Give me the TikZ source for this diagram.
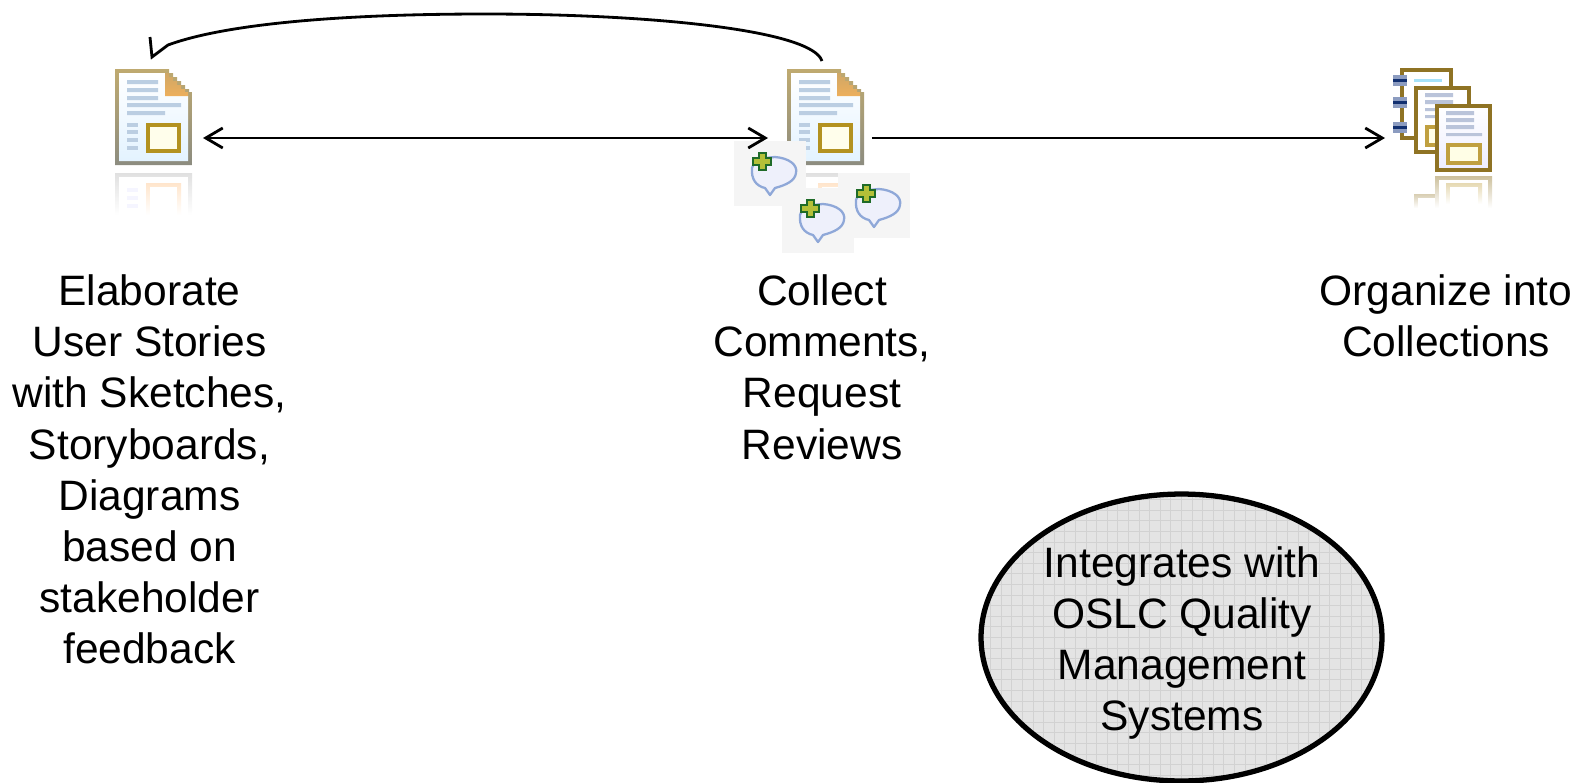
\documentclass[tikz,border=0pt]{standalone}
\usepackage{fontspec}
\setmainfont{Liberation Sans}
\usetikzlibrary{shapes.geometric,arrows.meta}

\definecolor{frametop}{HTML}{BFAA70}
\definecolor{framebot}{HTML}{8C8C80}
\definecolor{pagebot}{HTML}{E3F3FF}
\definecolor{textbar}{HTML}{BBCEE2}
\definecolor{goldbox}{HTML}{B39220}
\definecolor{foldorange}{HTML}{EDAF5C}
\definecolor{foldtan}{HTML}{CFA766}
\definecolor{stackframe}{HTML}{8F7324}
\definecolor{stackbar}{HTML}{BAC4DA}
\definecolor{stackgold}{HTML}{C0A040}
\definecolor{bubbleline}{HTML}{8FA8D8}
\definecolor{bubblefill}{HTML}{EEF0FB}
\definecolor{plusdark}{HTML}{1F6B28}
\definecolor{plusfill}{HTML}{B4C038}
\definecolor{ringdark}{HTML}{123070}
\definecolor{ringlight}{HTML}{8C9CC0}
\definecolor{ovalgrey}{HTML}{E4E4E4}
\definecolor{ovalgrid}{HTML}{D2D2D2}

\tikzset{
  labeltext/.style={align=center,inner sep=0,font=\fontsize{24.2}{29.1}\selectfont},
  iconbox/.style={inner sep=0,outer sep=0,minimum width=#1},
  linkline/.style={line width=1.6pt,>={Straight Barb[length=3.4mm,width=4mm]}},
  docicon/.pic={
    % page and corner
    \path[shade,top color=frametop,bottom color=framebot] (0,0) -- (54,0) -- (54,4) -- (58,4) -- (58,8) -- (62,8) -- (62,12)
      -- (66,12) -- (66,16) -- (70,16) -- (70,20) -- (74,20) -- (74,23) -- (77,23) -- (77,96) -- (0,96) -- cycle;
    \path[shade,top color=white,bottom color=pagebot] (4,4) -- (50,4) -- (50,27) -- (73,27) -- (73,92) -- (4,92) -- cycle;
    \path[shade,top color=foldtan,bottom color=foldorange] (50,4) -- (54,4) -- (54,8) -- (58,8) -- (58,12) -- (62,12) -- (62,16)
      -- (66,16) -- (66,20) -- (70,20) -- (70,23) -- (73,23) -- (73,27) -- (50,27) -- cycle;
    \fill[textbar] (12,11) rectangle (43,15) (12,19) rectangle (43,23) (12,27) rectangle (43,31);
    \fill[textbar] (12,34) rectangle (66,38) (12,42) rectangle (50,46);
    \foreach \yy in {54,61,69,77} \fill[textbar] (12,\yy) rectangle (23,\yy+4);
    \fill[white!92!yellow] (31,54) rectangle (66,84);
    \draw[goldbox,line width=2.2pt] (33,56) rectangle (64,82);
    % reflection
    \path[shade,top color=black!12,bottom color=white] (0,104) rectangle (77,146);
    \fill[white] (4,108) rectangle (73,146);
    \foreach \yy in {119,127,135} \fill[blue!4] (12,\yy) rectangle (23,\yy+4);
    \path[shade,top color=orange!20,bottom color=white] (31,114) rectangle (66,146);
    \fill[white] (35,118) rectangle (62,146);
  },
  bubbleicon/.pic={
    \fill[black!4] (0,0) rectangle (72,65);
    \draw[bubbleline,fill=bubblefill,line width=1.3pt,line join=round] (36,54) -- (31,47)
      .. controls (22,45) and (17,38) .. (18,27) .. controls (19,20) and (26,17) .. (41,16)
      .. controls (55,17) and (64,24) .. (62,32) .. controls (61,40) and (52,44) .. (41,47) -- cycle;
    \draw[plusdark,fill=plusfill,line width=1.3pt] (25,12) -- (32,12) -- (32,17) -- (37,17) -- (37,24) -- (32,24)
      -- (32,29) -- (25,29) -- (25,24) -- (19,24) -- (19,17) -- (25,17) -- cycle;
  },
  stackicon/.pic={
    % rings and pages
    \draw[stackframe,fill=white,line width=2.2pt] (9,2) rectangle (58,70);
    \fill[cyan!35] (21,11) rectangle (49,14);
    \foreach \yy in {7,29,54} {
      \fill[ringlight] (0,\yy) rectangle (14,\yy+11);
      \fill[ringdark] (0,\yy+4) rectangle (14,\yy+7);
    }
    \draw[stackframe,fill=white,line width=2.2pt] (23,20) rectangle (76,84);
    \fill[stackbar] (32,25) rectangle (60,29) (32,32) rectangle (60,36) (32,40) rectangle (45,43) (32,47) rectangle (45,50);
    \draw[stackgold,fill=white!90!yellow,line width=2.2pt] (34,59) rectangle (50,77);
    \path[shade,top color=white,bottom color=blue!7,draw=stackframe,line width=2.2pt] (44,38) rectangle (97,102);
    \fill[stackbar] (53,43) rectangle (81,47) (53,50) rectangle (81,54) (53,57) rectangle (81,61) (53,65) rectangle (89,68);
    \draw[stackgold,fill=white!90!yellow,line width=2.2pt] (55,77) rectangle (87,95);
    % reflection
    \path[shade,top color=stackframe!35,bottom color=white] (21,126) rectangle (42,140);
    \fill[white] (25,130) rectangle (42,140);
    \path[shade,top color=stackframe!45,bottom color=white] (42,108) rectangle (99,140);
    \fill[white] (46,112) rectangle (95,140);
    \path[shade,top color=stackgold!40,bottom color=white] (53,115) rectangle (89,136);
    \fill[white] (57,119) rectangle (85,136);
  },
}

\begin{document}
\begin{tikzpicture}[x=0.02cm,y=-0.02cm]

\useasboundingbox (0,0) rectangle (1580,782);

%icons
\node [iconbox=1.54cm,minimum height=1.92cm] (storydoc) at (153.5,117) {};
\node [iconbox=1.54cm,minimum height=1.92cm] (reviewdoc) at (825.5,117) {};
\node [iconbox=1.98cm,minimum height=2.08cm] (stackdoc) at (1442.5,120) {};
\pic at (storydoc.north west) {docicon};
\pic at (reviewdoc.north west) {docicon};
\pic at (stackdoc.north west) {stackicon};
\pic at (838,173) {bubbleicon};
\pic at (734,141) {bubbleicon};
\pic at (782,188) {bubbleicon};

%lines
\coordinate (loopstart) at (822,61);
\coordinate (looptop) at (485,14);
\coordinate (looptip) at (152,57);
\coordinate (barbup) at (150,37);
\coordinate (barbright) at (168,45);
\draw [<->,linkline] ([shift={(11,21)}]storydoc.east) -- ([shift={(-19,21)}]reviewdoc.west);
\draw [->,linkline] ([shift={(8,21)}]reviewdoc.east) -- ([shift={(-8,18)}]stackdoc.west);
\draw [linkline] (loopstart) .. controls (812,30) and (650,14) .. (looptop)
  .. controls (340,14) and (225,24) .. (barbright) -- (looptip) -- (barbup);

%nodes
\node [labeltext,anchor=north] (storylabel) at (149.5,274.5) {Elaborate\\User Stories\\with Sketches,\\Storyboards,\\Diagrams\\based on\\stakeholder\\feedback};
\node [labeltext,anchor=north] (reviewlabel) at (822,274.5) {Collect\\Comments,\\Request\\Reviews};
\node [labeltext,anchor=north] (stacklabel) at (1446,274.5) {Organize into\\Collections};
\node [ellipse,draw,inner sep=0,line width=3pt,fill=ovalgrey,minimum width=8.02cm,minimum height=5.74cm,
  path picture={\draw[ovalgrid,line width=0.5pt,step=0.212cm] (path picture bounding box.south west) grid (path picture bounding box.north east);}]
  (qualityoval) at (1181.5,637.5) {};
\node [labeltext] (qualitylabel) at (1182,643) {Integrates with\\OSLC Quality\\Management\\Systems};

\end{tikzpicture}
\end{document}
